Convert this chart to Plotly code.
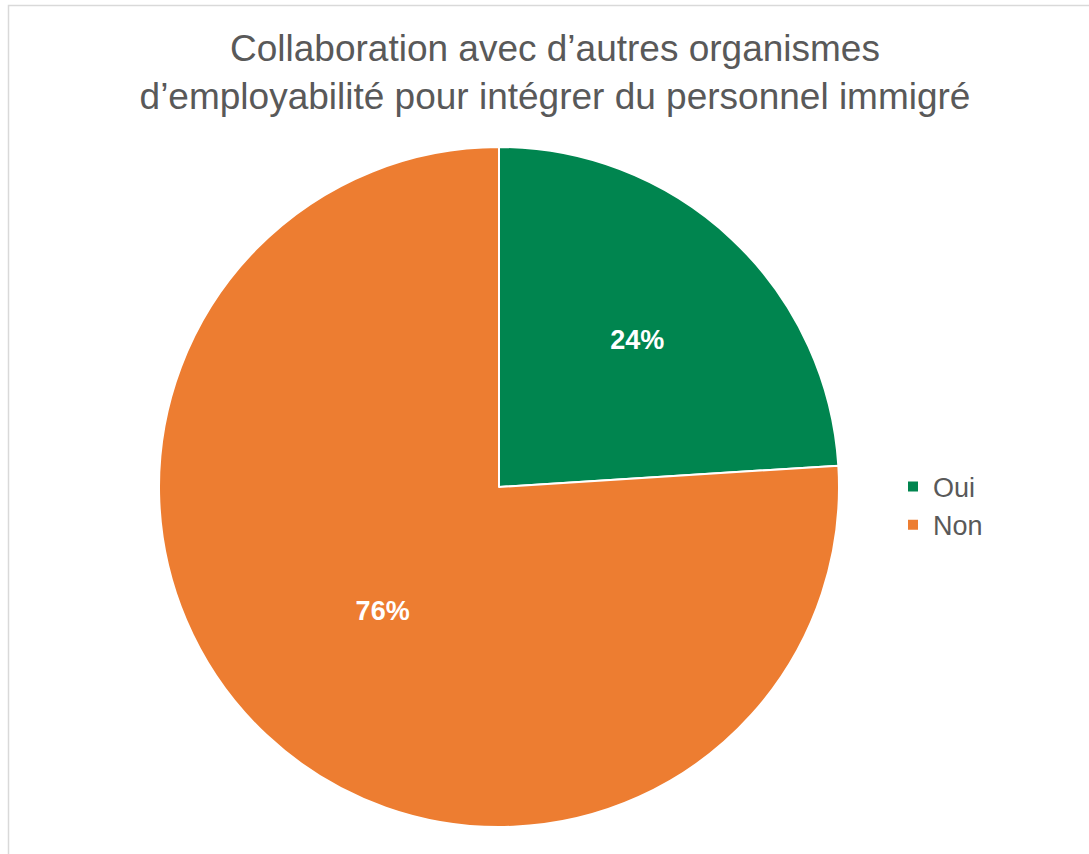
import plotly.graph_objects as go

labels = ['Oui', 'Non']
values = [24, 76]
colors = ['#00854F', '#ED7D31']

W, H = 1089, 854

fig = go.Figure()
fig.add_trace(go.Pie(
    labels=labels, values=values, sort=False,
    direction='clockwise', rotation=0,
    marker=dict(colors=colors, line=dict(color='white', width=2)),
    textinfo='percent', texttemplate='%{percent:.0%}',
    textposition='inside', insidetextorientation='horizontal',
    textfont=dict(family='Liberation Sans, Arial', size=27, color='white', weight='bold'),
    domain=dict(x=[159 / W, 839 / W], y=[1 - 827 / H, 1 - 147 / H]),
    hoverinfo='label+percent',
))

fig.update_layout(
    width=W, height=H,
    margin=dict(l=0, r=0, t=0, b=0),
    paper_bgcolor='white',
    font=dict(family='Liberation Sans, Arial', color='#595959'),
    title=dict(
        text="Collaboration avec d’autres organismes<br>d’employabilité pour intégrer du personnel immigré",
        x=555 / W, xanchor='center', y=1 - 61 / H, yanchor='top',
        font=dict(size=37, color='#595959'),
    ),
    legend=dict(
        x=893 / W, xanchor='left', y=1 - 506 / H, yanchor='middle',
        font=dict(size=27, color='#595959'),
        bgcolor='rgba(0,0,0,0)',
    ),
    shapes=[dict(type='rect', xref='paper', yref='paper',
                 x0=8.5 / W, x1=1.02, y0=-0.02, y1=1 - 5.5 / H,
                 line=dict(color='#D9D9D9', width=1.5), fillcolor='rgba(0,0,0,0)',
                 layer='below')],
)

fig.write_html('out.html', config={'displayModeBar': False},
               post_script="document.body.style.margin='0';")
